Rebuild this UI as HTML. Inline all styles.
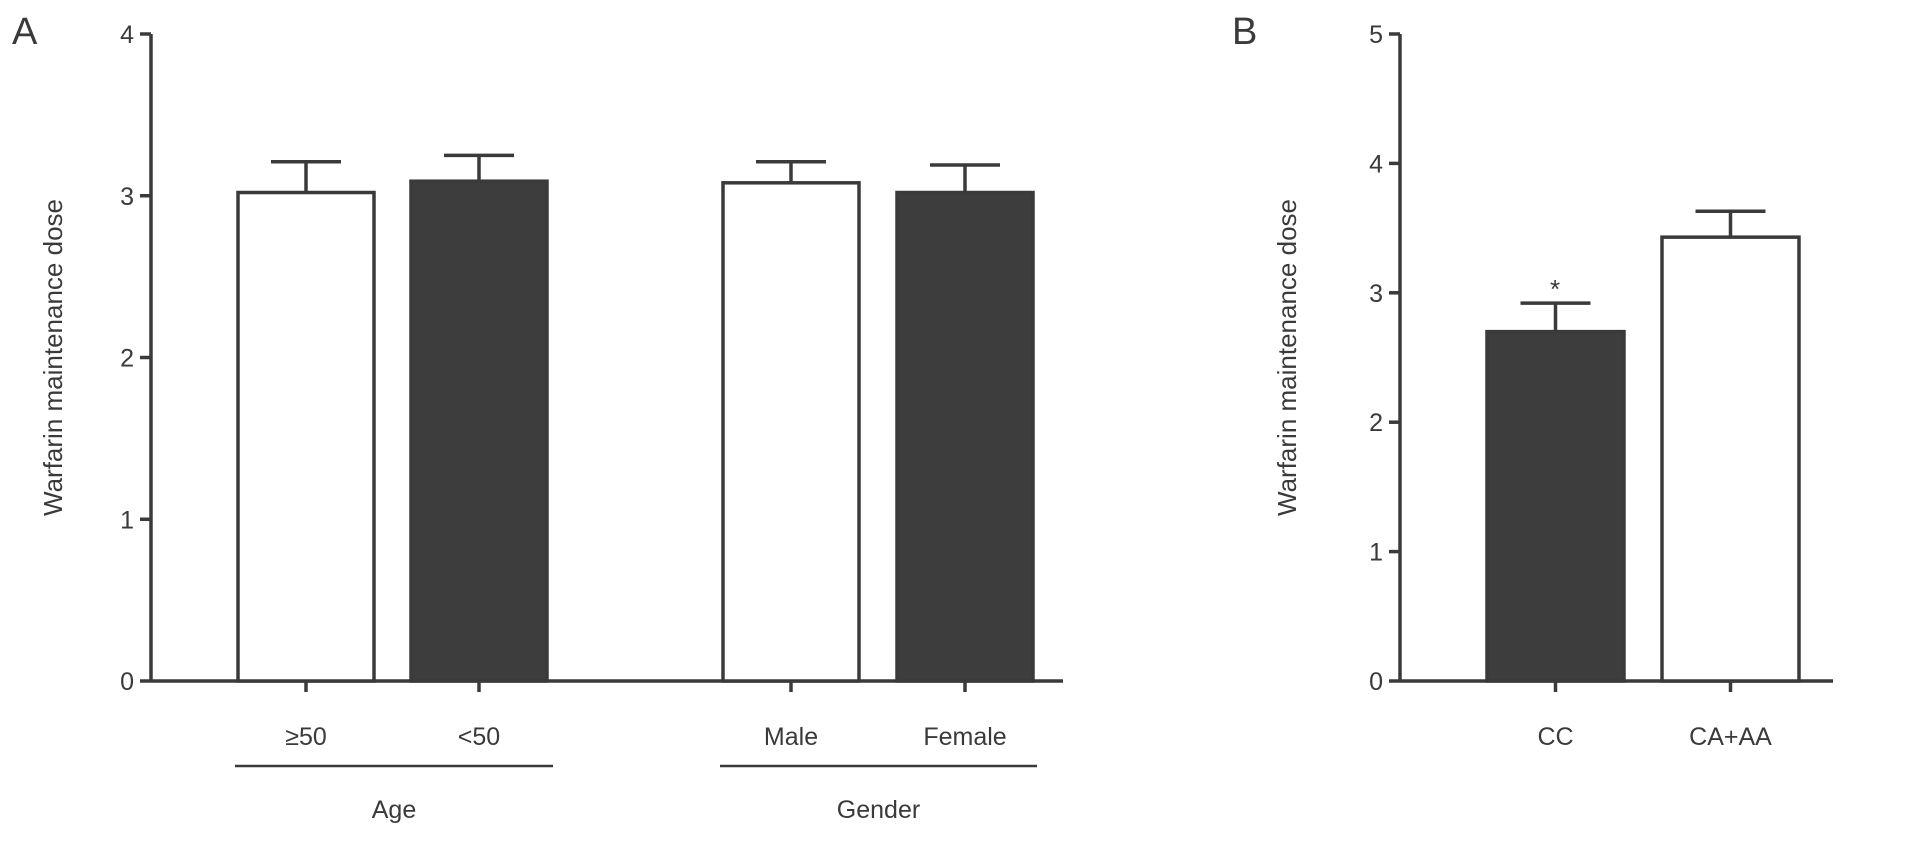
<!DOCTYPE html>
<html><head><meta charset="utf-8"><style>
body{margin:0;background:#fff}
svg text{font-family:"Liberation Sans",sans-serif;fill:#3a3a3a}
</style></head><body>
<svg width="1913" height="839" viewBox="0 0 1913 839">
<g id="A"></g>
<g id="B"></g>
</svg>
<script>
const catsA = ["≥50","<50","Male","Female"];
const valsA = [3.02,3.09,3.08,3.02];
const errA = [3.21,3.25,3.21,3.19];
const fillA = ["w","d","w","d"];
const ticksA = [0,1,2,3,4];
const catsB = ["CC","CA+AA"];
const valsB = [2.70,3.43];
const errB = [2.92,3.63];
const fillB = ["d","w"];
const ticksB = [0,1,2,3,4,5];
const NS="http://www.w3.org/2000/svg";
const C="#3a3a3a";
function mk(p,t,a){const e=document.createElementNS(NS,t);for(const k in a)e.setAttribute(k,a[k]);p.appendChild(e);return e;}
function panel(g,cfg){
  const y=v=>cfg.y0-(v/cfg.ymax)*(cfg.y0-cfg.y1);
  let ax=mk(g,"line",{x1:cfg.ax,y1:y(cfg.ymax),x2:cfg.ax,y2:cfg.y0,stroke:C,"stroke-width":3.5});
  
  
  let xx=mk(g,"line",{x1:cfg.ax,y1:cfg.y0,x2:cfg.xend,y2:cfg.y0,stroke:C,"stroke-width":3.5});
  
  
  cfg.ticks.forEach(t=>{
    let l=mk(g,"line",{x1:cfg.ax-11,y1:y(t),x2:cfg.ax,y2:y(t),stroke:C,"stroke-width":3.5});
    
    
    let tx=mk(g,"text",{x:cfg.ax-17,y:y(t)+9,"text-anchor":"end","font-size":25});
    tx.textContent=t;
    
    
  });
  cfg.cats.forEach((c,i)=>{
    const x0=cfg.bx[i], w=cfg.bw, cx=x0+w/2;
    let e=mk(g,"line",{x1:cx,y1:y(cfg.err[i]),x2:cx,y2:y(cfg.vals[i]),stroke:C,"stroke-width":3.5});
    
    
    let cap=mk(g,"line",{x1:cx-35,y1:y(cfg.err[i]),x2:cx+35,y2:y(cfg.err[i]),stroke:C,"stroke-width":3.5});
    
    
    let r=mk(g,"rect",{x:x0,y:y(cfg.vals[i]),width:w,height:cfg.y0-y(cfg.vals[i]),fill:cfg.fill[i]=="d"?"#3d3d3d":"#fff",stroke:C,"stroke-width":3.5});
    
    
    let tk=mk(g,"line",{x1:cx,y1:cfg.y0,x2:cx,y2:cfg.y0+11,stroke:C,"stroke-width":3.5});
    
    
    let tx=mk(g,"text",{x:cx,y:745,"text-anchor":"middle","font-size":25});
    tx.textContent=c;
    
    
  });
  let yt=mk(g,"text",{x:0,y:0,"text-anchor":"middle","font-size":26,transform:`translate(${cfg.tx},${(y(0)+y(cfg.ymax))/2}) rotate(-90)`});
  yt.textContent="Warfarin maintenance dose";
  
  
  let pl=mk(g,"text",{x:cfg.lx,y:44,"font-size":38});
  pl.textContent=cfg.letter;
  
  
}
const gA=document.getElementById("A"), gB=document.getElementById("B");
panel(gA,{ax:151,y0:681,y1:34,ymax:4,xend:1063,ticks:ticksA,cats:catsA,vals:valsA,err:errA,fill:fillA,bx:[238,411,723,897],bw:136,tx:62,lx:12,letter:"A"});
panel(gB,{ax:1400,y0:681,y1:34,ymax:5,xend:1833,ticks:ticksB,cats:catsB,vals:valsB,err:errB,fill:fillB,bx:[1487,1662],bw:137,tx:1296,lx:1232,letter:"B"});
[["Age",235,553],["Gender",720,1037]].forEach(([n,a,b])=>{
  let l=mk(gA,"line",{x1:a,y1:766,x2:b,y2:766,stroke:C,"stroke-width":2.5});
  
  
  let t=mk(gA,"text",{x:(a+b)/2,y:818,"text-anchor":"middle","font-size":25});
  t.textContent=n;
  
  
});
let st=mk(gB,"text",{x:1555,y:298,"text-anchor":"middle","font-size":26});
st.textContent="*";


</script>
</body></html>
